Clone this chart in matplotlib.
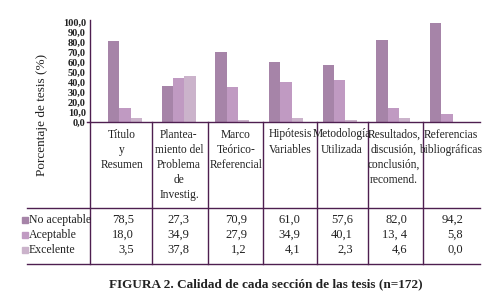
import matplotlib
matplotlib.use("Agg")
import matplotlib.pyplot as plt
from matplotlib.lines import Line2D
from matplotlib.patches import Rectangle
import numpy as np

# ---------------- data ----------------
categories = ["Título\ny\nResumen",
              "Plantea-\nmiento del\nProblema\nde\nInvestig.",
              "Marco\nTeórico-\nReferencial",
              "Hipótesis\nVariables",
              "Metodología\nUtilizada",
              "Resultados,\ndiscusión,\nconclusión,\nrecomend.",
              "Referencias\nbibliográficas"]
series_names = ["No aceptable", "Aceptable", "Excelente"]

# bar heights as drawn in the picture
bars_no_aceptable = [81.0, 36.0, 70.0, 60.0, 57.0, 82.0, 99.5]
bars_aceptable = [14.0, 44.0, 35.0, 40.5, 42.0, 14.0, 8.0]
bars_excelente = [4.0, 46.0, 2.0, 4.0, 2.0, 4.0, 0.0]

# values printed in the data table
table_no_aceptable = ["78,5", "27,3", "70,9", "61,0", "57,6", "82,0", "94,2"]
table_aceptable = ["18,0", "34,9", "27,9", "34,9", "40,1", "13, 4", "5,8"]
table_excelente = ["3,5", "37,8", "1,2", "4,1", "2,3", "4,6", "0,0"]

y_ticks = [0, 10, 20, 30, 40, 50, 60, 70, 80, 90, 100]
y_ticklabels = ["0,0", "10,0", "20,0", "30,0", "40,0", "50,0", "60,0",
                "70,0", "80,0", "90,0", "100,0"]

title = "FIGURA 2. Calidad de cada sección de las tesis (n=172)"
ylabel = "Porcentaje de tesis (%)"

# ---------------- style ----------------
colors = ["#a684a8", "#c09ac2", "#cbb3cb"]
line_color = "#4e1f50"
text_color = "#222222"
serif = ["Liberation Serif", "DejaVu Serif"]
plt.rcParams['font.family'] = serif

W, H = 499, 305
fig = plt.figure(figsize=(W / 100, H / 100), dpi=100)


def fx(x):
    return x / W


def fy(y):
    return 1 - y / H


# plot area (pixels)
ax_left, ax_right, ax_top, ax_bottom = 90, 480, 19.5, 122
ax = fig.add_axes([fx(ax_left), fy(ax_bottom), fx(ax_right - ax_left),
                   (ax_bottom - ax_top) / H])

n = len(categories)
x = np.arange(n)
bw = 0.21
series = [bars_no_aceptable, bars_aceptable, bars_excelente]
for i, (vals, c) in enumerate(zip(series, colors)):
    ax.bar(x + (i - 1) * bw, vals, width=bw, color=c, edgecolor='none')

# x scaling so that group centres fall where they do in the reference
px_per_unit = 53.67
c0 = 125.0
ax.set_xlim((ax_left - c0) / px_per_unit, (ax_right - c0) / px_per_unit)
ax.set_ylim(0, 102.7)
ax.set_yticks(y_ticks)
ax.set_yticklabels(y_ticklabels, fontsize=7.5, fontweight='bold', color=text_color)
ax.tick_params(axis='y', length=0, pad=3)
ax.set_xticks([])
for s in ['top', 'right', 'bottom']:
    ax.spines[s].set_visible(False)
ax.spines['left'].set_color(line_color)
ax.spines['left'].set_linewidth(1.0)

# ---------------- table lines ----------------
def hline(y, x0, x1):
    fig.add_artist(Line2D([fx(x0), fx(x1)], [fy(y), fy(y)],
                          color=line_color, lw=1.0))


def vline(x0, y0, y1):
    fig.add_artist(Line2D([fx(x0), fx(x0)], [fy(y0), fy(y1)],
                          color=line_color, lw=1.0))


hline(122, 87, 480)
hline(208, 27, 480)
hline(264, 27, 480)
vline(90, 122, 264)
separators = [152, 208, 263, 317, 368, 423]
for sx in separators:
    vline(sx, 122, 264)

# category labels
label_centres = [122, 179, 236, 290, 342, 394, 451]
for cx, lab in zip(label_centres, categories):
    fig.text(fx(cx), fy(128.5), lab, ha='center', va='top', fontsize=8.3,
             color=text_color, linespacing=1.35)

# table rows
row_y = [220, 235, 250]
value_right = [134, 189, 247, 300, 353, 407, 463]
table_rows = [table_no_aceptable, table_aceptable, table_excelente]
for ry, name, col, vals in zip(row_y, series_names, colors, table_rows):
    fig.add_artist(Rectangle((fx(22), fy(ry + 3)), 6 / W, 6 / H,
                             color=col, transform=fig.transFigure))
    fig.text(fx(29), fy(ry), name, ha='left', va='center', fontsize=8.5,
             color=text_color)
    for rx, v in zip(value_right, vals):
        fig.text(fx(rx), fy(ry), v, ha='right', va='center', fontsize=9,
                 color=text_color)

# y label and title
fig.text(fx(42), fy(115), ylabel, rotation=90, ha='center', va='center',
         fontsize=9.5, color=text_color)
fig.text(fx(266), fy(284), title, ha='center', va='center', fontsize=9.5,
         fontweight='bold', color=text_color)

fig.savefig("out.png", dpi=100)
